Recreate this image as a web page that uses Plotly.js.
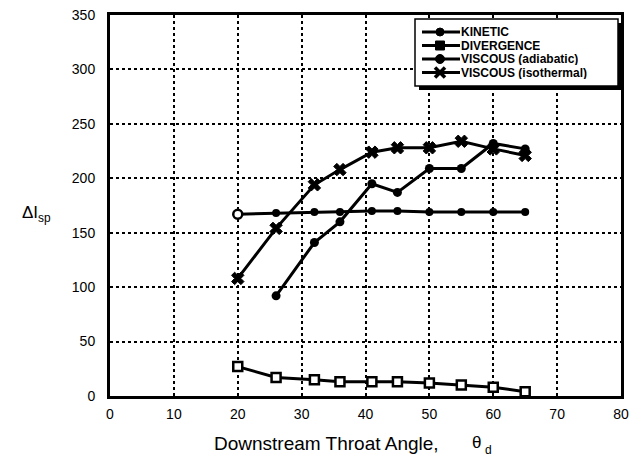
<!DOCTYPE html>
<html>
<head>
<meta charset="utf-8">
<script src="https://cdn.plot.ly/plotly-3.0.1.min.js"></script>
<style>html,body{margin:0;padding:0;background:#fff;}#chart{width:640px;height:458px;}</style>
</head>
<body>
<div id="chart"></div>
<script>
var angles = [20, 26, 32, 36, 41, 45, 50, 55, 60, 65];
var kinetic = [167, 168, 169, 169, 170, 170, 169, 169, 169, 169];
var divergence = [27, 17, 15, 13, 13, 13, 12, 10, 8, 4];
var adiabaticAngles = [26, 32, 36, 41, 45, 50, 55, 60, 65];
var adiabatic = [92, 141, 160, 195, 187, 209, 209, 232, 227];
var isothermal = [108, 154, 194, 208, 224, 228, 228, 234, 227, 221];
var names = ['KINETIC', 'DIVERGENCE', 'VISCOUS (adiabatic)', 'VISCOUS (isothermal)'];
var xTicks = [0, 10, 20, 30, 40, 50, 60, 70, 80];
var yTicks = [0, 50, 100, 150, 200, 250, 300, 350];

var FAM = 'Liberation Sans, Arial, Helvetica, sans-serif';
var W = 640, H = 458, M = {l: 110, r: 19, t: 15, b: 62};
var PW = W - M.l - M.r, PH = H - M.t - M.b;
function px(X) { return (X - M.l) / PW; }
function py(Y) { return (H - M.b - Y) / PH; }

var tickFont = {family: FAM, color: '#000', size: 14};
var line = {color: '#000', width: 3};

var traces = [
  {x: angles, y: kinetic, name: names[0], mode: 'lines+markers', line: line,
   marker: {symbol: 'circle', size: 8, color: '#000'}},
  {x: angles.slice(0, 1), y: kinetic.slice(0, 1), mode: 'markers', hoverinfo: 'skip',
   marker: {symbol: 'circle', size: 9, color: '#fff', line: {color: '#000', width: 2.5}}},
  {x: angles, y: divergence, name: names[1], mode: 'lines+markers', line: line,
   marker: {symbol: 'square', size: 9, color: '#fff', line: {color: '#000', width: 2.5}}},
  {x: adiabaticAngles, y: adiabatic, name: names[2], mode: 'lines+markers', line: line,
   marker: {symbol: 'circle', size: 9, color: '#000'}},
  {x: angles, y: isothermal, name: names[3], mode: 'lines+markers', line: line,
   marker: {symbol: 'x', size: 11, color: '#000', line: {color: '#000', width: 1}}}
];

// Legend box (drawn as layout shapes / annotations)
var legRows = [32, 45.5, 59, 72.5];
var shapes = [
  {type: 'rect', xref: 'paper', yref: 'paper', layer: 'above',
   x0: px(419), x1: px(622), y0: py(23), y1: py(90), fillcolor: '#000', line: {width: 0}},
  {type: 'rect', xref: 'paper', yref: 'paper', layer: 'above',
   x0: px(415), x1: px(618), y0: py(19), y1: py(86), fillcolor: '#fff', line: {color: '#000', width: 1.5}}
];
var annotations = [];
legRows.forEach(function (ry, i) {
  shapes.push({type: 'line', xref: 'paper', yref: 'paper', layer: 'above',
    x0: px(422), x1: px(460), y0: py(ry), y1: py(ry), line: {color: '#000', width: 3}});
  if (i === 0 || i === 2) {
    var r = i === 0 ? 4 : 4.5;
    shapes.push({type: 'circle', xref: 'paper', yref: 'paper', layer: 'above',
      x0: px(440 - r), x1: px(440 + r), y0: py(ry - r), y1: py(ry + r),
      fillcolor: '#000', line: {color: '#000', width: 1}});
  } else if (i === 1) {
    shapes.push({type: 'rect', xref: 'paper', yref: 'paper', layer: 'above',
      x0: px(435.5), x1: px(444.5), y0: py(ry - 4.5), y1: py(ry + 4.5),
      fillcolor: '#000', line: {color: '#000', width: 1}});
  } else {
    shapes.push({type: 'line', xref: 'paper', yref: 'paper', layer: 'above',
      x0: px(435), x1: px(445), y0: py(ry - 5), y1: py(ry + 5), line: {color: '#000', width: 3.5}});
    shapes.push({type: 'line', xref: 'paper', yref: 'paper', layer: 'above',
      x0: px(435), x1: px(445), y0: py(ry + 5), y1: py(ry - 5), line: {color: '#000', width: 3.5}});
  }
  annotations.push({xref: 'paper', yref: 'paper', x: px(460), y: py(ry), xanchor: 'left', yanchor: 'middle',
    height: 12, valign: 'middle', borderpad: 0,
    text: names[i], showarrow: false, font: {family: FAM, size: 12, weight: 'bold', color: '#000'}});
});

annotations.push(
  {xref: 'paper', yref: 'paper', x: px(36), y: py(214), xanchor: 'center', yanchor: 'middle',
   text: 'ΔI<sub>sp</sub>', showarrow: false, font: {family: FAM, size: 17, color: '#000'}},
  {xref: 'paper', yref: 'paper', x: px(326), y: py(443), xanchor: 'center', yanchor: 'middle',
   text: 'Downstream Throat Angle,', showarrow: false, font: {family: FAM, size: 19, color: '#000'}},
  {xref: 'paper', yref: 'paper', x: px(476), y: py(442), xanchor: 'center', yanchor: 'middle',
   text: 'θ', showarrow: false, font: {family: FAM, size: 17, color: '#000'}},
  {xref: 'paper', yref: 'paper', x: px(484), y: py(450), xanchor: 'left', yanchor: 'middle',
   text: 'd', showarrow: false, borderpad: 0, font: {family: FAM, size: 12, color: '#000'}}
);

var layout = {
  width: W, height: H,
  margin: M,
  paper_bgcolor: '#fff', plot_bgcolor: '#fff',
  font: {family: FAM, color: '#000', size: 14},
  showlegend: false,
  xaxis: {range: [0, 80], tickvals: xTicks, ticktext: xTicks.map(String),
    showgrid: true, gridcolor: '#000', gridwidth: 2, griddash: 'dot',
    showline: true, mirror: true, linecolor: '#000', linewidth: 3,
    ticks: '', zeroline: false, tickfont: tickFont, ticklabelstandoff: 3, fixedrange: true},
  yaxis: {range: [0, 350], tickvals: yTicks, ticktext: yTicks.map(String),
    showgrid: true, gridcolor: '#000', gridwidth: 2, griddash: 'dot',
    showline: true, mirror: true, linecolor: '#000', linewidth: 3,
    ticks: '', zeroline: false, tickfont: tickFont, ticklabelstandoff: 9, fixedrange: true},
  shapes: shapes,
  annotations: annotations
};

Plotly.newPlot('chart', traces, layout, {displayModeBar: false, staticPlot: true});
</script>
</body>
</html>
